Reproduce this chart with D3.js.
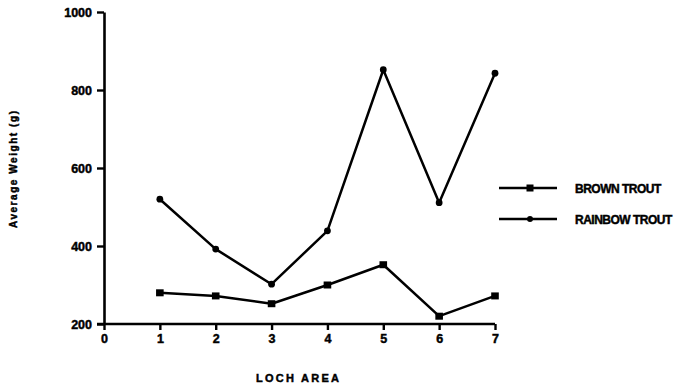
<!DOCTYPE html>
<html><head><meta charset="utf-8">
<script src="https://cdn.jsdelivr.net/npm/d3@7"></script>
<style>
html,body{margin:0;padding:0;background:#fff;}
svg text{font-family:"Liberation Sans",Arial,sans-serif;font-weight:bold;fill:#000;stroke:#000;stroke-width:0.45px;}
</style></head>
<body>
<svg id="chart" width="684" height="384"></svg>
<script>
const lochAreas = [1, 2, 3, 4, 5, 6, 7];
const brownTrout = [280, 272, 252, 300, 352, 220, 272];
const rainbowTrout = [520, 392, 302, 439, 852, 511, 843];
const xTicks = [0, 1, 2, 3, 4, 5, 6, 7];
const yTicks = [200, 400, 600, 800, 1000];
const seriesNames = ["BROWN TROUT", "RAINBOW TROUT"];

const svg = d3.select("#chart");
const x = d3.scaleLinear().domain([0, 7]).range([104, 495]);
const y = d3.scaleLinear().domain([200, 1000]).range([324, 12]);

const yAxis = svg.append("g").attr("transform", "translate(104,0)")
  .call(d3.axisLeft(y).tickValues(yTicks).tickFormat(d3.format("d")).tickSizeOuter(0).tickSizeInner(7).tickPadding(5));
const xAxis = svg.append("g").attr("transform", "translate(0,324)")
  .call(d3.axisBottom(x).tickValues(xTicks).tickFormat(d3.format("d")).tickSizeOuter(0).tickSizeInner(6).tickPadding(4));
[yAxis, xAxis].forEach(g => {
  g.select(".domain").attr("stroke", "#000").attr("stroke-width", 2.6);
  g.selectAll(".tick line").attr("stroke", "#000").attr("stroke-width", 2.4);
  g.selectAll(".tick text").style("font-size", "12.5px").attr("fill", "#000");
});
yAxis.selectAll(".tick text").attr("dy", "0.36em");
xAxis.select(".domain").attr("d", `M${x(0)-7},0H${x(7)}`);

const line = d3.line().x((d, i) => x(lochAreas[i])).y(d => y(d));
svg.append("path").datum(brownTrout).attr("d", line)
  .attr("fill", "none").attr("stroke", "#000").attr("stroke-width", 2.5).attr("stroke-linejoin", "round");
svg.append("path").datum(rainbowTrout).attr("d", line)
  .attr("fill", "none").attr("stroke", "#000").attr("stroke-width", 2.5).attr("stroke-linejoin", "round");

svg.selectAll("rect.bt").data(brownTrout).enter().append("rect")
  .attr("x", (d, i) => x(lochAreas[i]) - 3.8).attr("y", d => y(d) - 3.5)
  .attr("width", 7.6).attr("height", 7).attr("fill", "#000");
svg.selectAll("circle.rt").data(rainbowTrout).enter().append("circle")
  .attr("cx", (d, i) => x(lochAreas[i])).attr("cy", d => y(d)).attr("r", 3.4).attr("fill", "#000");

// Legend
const legY = [188, 219];
legY.forEach((ly, i) => {
  svg.append("line").attr("x1", 499).attr("x2", 557).attr("y1", ly).attr("y2", ly)
    .attr("stroke", "#000").attr("stroke-width", 2.5);
  if (i === 0) {
    svg.append("rect").attr("x", 526.5).attr("y", ly - 3.5).attr("width", 7).attr("height", 7).attr("fill", "#000");
  } else {
    svg.append("circle").attr("cx", 530).attr("cy", ly).attr("r", 3).attr("fill", "#000");
  }
  svg.append("text").attr("x", 575).attr("y", ly + 4.5).style("font-size", "12px")
    .style("letter-spacing", "-0.5px").text(seriesNames[i]);
});

// Axis titles
svg.append("text").attr("x", 256).attr("y", 382).style("font-size", "11px")
  .attr("textLength", 83).attr("lengthAdjust", "spacing").text("LOCH AREA");
svg.append("text").attr("transform", "translate(17,228) rotate(-90)")
  .style("font-size", "10px").attr("textLength", 117).attr("lengthAdjust", "spacing")
  .text("Average Weight (g)");
</script>
</body></html>
